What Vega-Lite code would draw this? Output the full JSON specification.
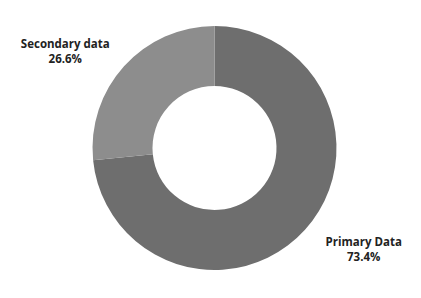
{
  "$schema": "https://vega.github.io/schema/vega-lite/v6.json",
  "width": 421,
  "height": 298,
  "autosize": {"type": "fit", "contains": "padding"},
  "padding": {"left": 8, "top": 0, "right": 0, "bottom": 2},
  "background": "white",
  "config": {"view": {"stroke": null}},
  "data": {
    "values": [
      {"category": "Primary Data", "value": 73.4, "rank": 1, "label": "Primary Data\n73.4%"},
      {"category": "Secondary data", "value": 26.6, "rank": 2, "label": "Secondary data\n26.6%"}
    ]
  },
  "encoding": {
    "theta": {"field": "value", "type": "quantitative", "stack": true},
    "order": {"field": "rank", "type": "quantitative"}
  },
  "layer": [
    {
      "mark": {"type": "arc", "outerRadius": 122, "innerRadius": 62},
      "encoding": {
        "color": {
          "field": "category",
          "type": "nominal",
          "scale": {"domain": ["Primary Data", "Secondary data"], "range": ["#6e6e6e", "#8d8d8d"]},
          "legend": null
        }
      }
    },
    {
      "mark": {
        "type": "text",
        "radius": 179,
        "thetaOffset": -0.15,
        "dy": -4,
        "lineBreak": "\n",
        "font": "Open Sans",
        "fontWeight": "bold",
        "fontSize": 11.5,
        "lineHeight": 15,
        "color": "#222222",
        "align": "center",
        "baseline": "middle"
      },
      "encoding": {
        "text": {"field": "label", "type": "nominal"}
      }
    }
  ]
}
